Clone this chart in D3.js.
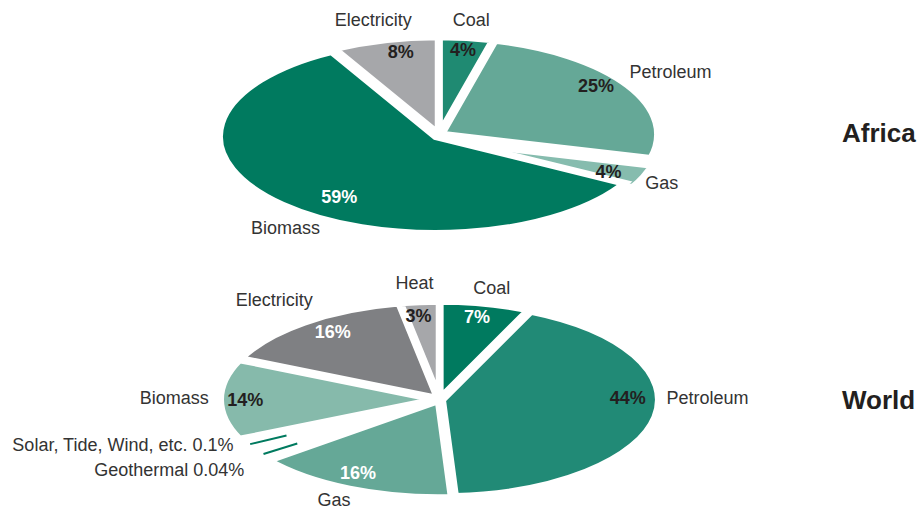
<!DOCTYPE html>
<html>
<head>
<meta charset="utf-8">
<script src="https://cdn.jsdelivr.net/npm/d3@7"></script>
<style>
  html, body { margin: 0; padding: 0; background: #fff; }
  svg { display: block; }
  text { font-family: "Liberation Sans", Arial, sans-serif; }
</style>
</head>
<body>
<svg id="chart" width="918" height="509"></svg>
<script>
// ---- Data ----
const africaCategories = ["Coal", "Petroleum", "Gas", "Biomass", "Electricity"];
const africaValues = [4, 25, 4, 59, 8];

const worldCategories = ["Coal", "Petroleum", "Gas", "Geothermal", "Solar, Tide, Wind, etc.", "Biomass", "Electricity", "Heat"];
const worldValues = [7, 44, 16, 0.04, 0.1, 14, 16, 3];

const regionTitles = ["Africa", "World"];

// ---- Styling / layout (not data) ----
const africaColors = ["#1f8a72", "#65a897", "#86bcae", "#007a5f", "#a6a7aa"];
const worldColors  = ["#007a5f", "#218a76", "#65a897", "#007a5f", "#007a5f", "#86baab", "#7f8083", "#a6a7aa"];
const africaPctColors = ["#231f20", "#231f20", "#231f20", "#ffffff", "#231f20"];
const worldPctColors  = ["#ffffff", "#231f20", "#ffffff", null, null, "#231f20", "#ffffff", "#231f20"];
// explode: distance and direction delta (deg) from slice mid-angle
const africaExplode = [{e:3,d:0}, {e:3,d:0}, {e:14,d:52}, {e:5,d:0}, {e:3,d:0}];
const worldExplode  = [{e:3,d:0}, {e:3,d:0}, {e:3,d:0}, {e:0,d:0}, {e:0,d:0}, {e:3,d:0}, {e:3,d:0}, {e:3,d:0}];

// label placement: polar, relative to slice mid-angle (degrees delta, radius fraction)
const africaPctLayout  = [{r:.87,d:0},{r:.873,d:-4.4},{r:.83,d:1},{r:.765,d:-9.4},{r:.865,d:2.8}];
const africaNameLayout = [{r:1.18,d:0,a:"middle"},{r:1.083,d:-6,a:"start"},{r:1.03,d:3,a:"start"},{r:1.17,d:-8.6,a:"middle"},{r:1.21,d:0,a:"middle"}];
const worldPctLayout   = [{r:.854,d:-0.6},{r:.858,d:-11.7},{r:.833,d:2.3},null,null,{r:.885,d:0},{r:.839,d:2.7},{r:.852,d:-1.3}];
const worldNameLayout  = [{r:1.167,d:-0.3,a:"middle"},{r:1.037,d:-11.5,a:"start"},{r:1.128,d:1.1,a:"middle"},
                          {r:1.158,d:-4.1,a:"end"},{r:1.063,d:1.5,a:"end"},{r:1.055,d:1,a:"end"},
                          {r:1.27,d:1.5,a:"middle"},{r:1.2,d:-0.3,a:"middle"}];

const svg = d3.select("#chart");
const R = 216;
const KY = 0.449;
const SMALL = 1;        // values below this (%) are drawn as slivers
const MIN_DISPLAY = 2;  // minimum display share for slivers so they stay visible

function drawPie(cfg) {
  const g = svg.append("g").attr("transform", `translate(${cfg.cx},${cfg.cy})`);
  const display = cfg.values.map(v => v < SMALL ? MIN_DISPLAY : v);
  const pie = d3.pie().sort(null).value((d, i) => display[i]);
  const arcs = pie(cfg.values);
  const arc = d3.arc().innerRadius(0).outerRadius(R);
  const toXY = (ang, r) => [r * Math.sin(ang), -r * Math.cos(ang) * KY];
  const rad = deg => deg * Math.PI / 180;
  const offset = (a, i) => {
    const mid = (a.startAngle + a.endAngle) / 2;
    const ex = cfg.explode[i];
    return toXY(mid + rad(ex.d), ex.e);
  };

  arcs.forEach((a, i) => {
    const mid = (a.startAngle + a.endAngle) / 2;
    const [ox, oy] = offset(a, i);
    if (cfg.values[i] < SMALL) {
      const [x1, y1] = toXY(mid, R * 0.8);
      const [x2, y2] = toXY(mid, R * 0.99);
      g.append("line")
        .attr("x1", x1 + ox).attr("y1", y1 + oy)
        .attr("x2", x2 + ox).attr("y2", y2 + oy)
        .attr("stroke", cfg.colors[i]).attr("stroke-width", 2);
    } else {
      g.append("path")
        .attr("d", arc(a))
        .attr("transform", `translate(${ox},${oy}) scale(1,${KY})`)
        .attr("fill", cfg.colors[i])
        .attr("stroke", "#fff")
        .attr("stroke-width", 7)
        .attr("vector-effect", "non-scaling-stroke");
    }
  });

  arcs.forEach((a, i) => {
    const mid = (a.startAngle + a.endAngle) / 2;
    const [ox, oy] = offset(a, i);
    const pl = cfg.pctLayout[i];
    if (pl) {
      const [x, y] = toXY(mid + rad(pl.d), R * pl.r);
      g.append("text")
        .attr("x", x + ox).attr("y", y + oy).attr("dy", "0.35em")
        .attr("text-anchor", "middle")
        .attr("font-size", 18).attr("font-weight", "bold")
        .attr("fill", cfg.pctColors[i])
        .text(cfg.values[i] + "%");
    }
    const nl = cfg.nameLayout[i];
    const [x, y] = toXY(mid + rad(nl.d), R * nl.r);
    g.append("text")
      .attr("x", x + ox).attr("y", y + oy).attr("dy", "0.35em")
      .attr("text-anchor", nl.a)
      .attr("font-size", 18)
      .attr("fill", "#333333")
      .text(cfg.values[i] < SMALL ? `${cfg.categories[i]} ${cfg.values[i]}%` : cfg.categories[i]);
  });
}

drawPie({cx: 439, cy: 135, values: africaValues, categories: africaCategories,
         colors: africaColors, pctColors: africaPctColors, explode: africaExplode,
         pctLayout: africaPctLayout, nameLayout: africaNameLayout});
drawPie({cx: 439.5, cy: 399.5, values: worldValues, categories: worldCategories,
         colors: worldColors, pctColors: worldPctColors, explode: worldExplode,
         pctLayout: worldPctLayout, nameLayout: worldNameLayout});

svg.selectAll("text.region")
  .data(regionTitles)
  .enter().append("text")
  .attr("class", "region")
  .attr("x", 842)
  .attr("y", (d, i) => i === 0 ? 133 : 400)
  .attr("dy", "0.35em")
  .attr("font-size", 26).attr("font-weight", "bold")
  .attr("fill", "#231f20")
  .text(d => d);
</script>
</body>
</html>
